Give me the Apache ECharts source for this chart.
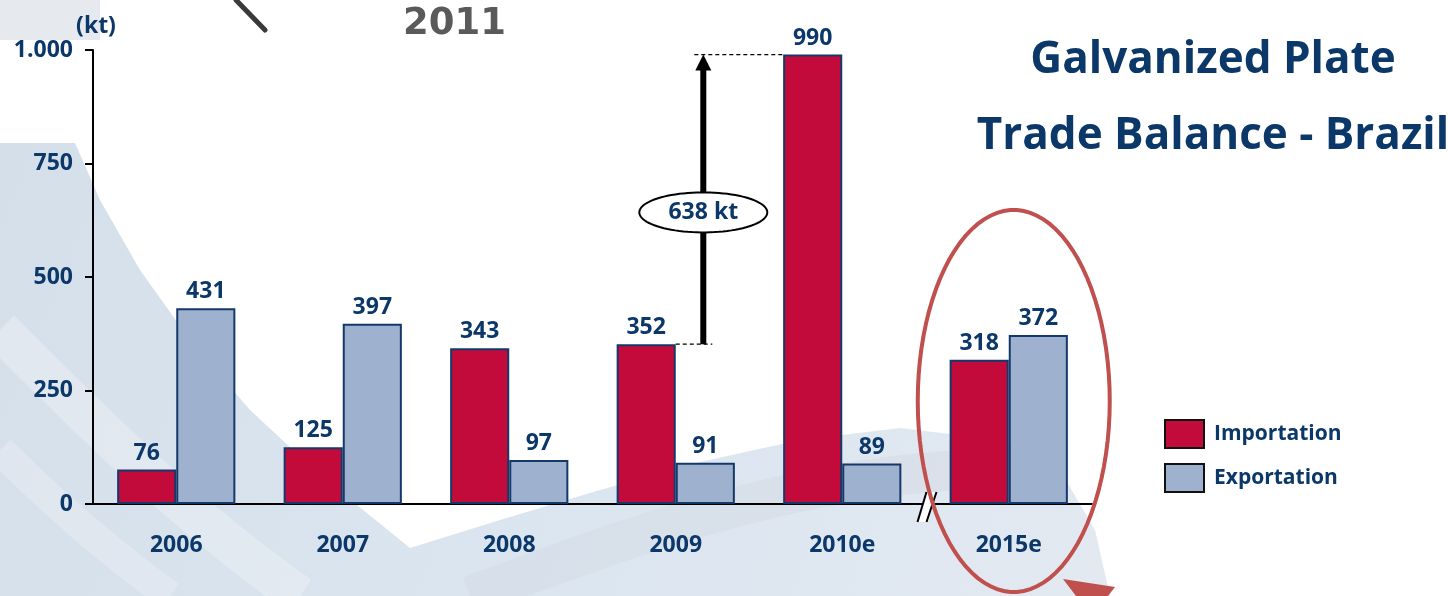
<!DOCTYPE html>
<html>
<head>
<meta charset="utf-8">
<title>Galvanized Plate Trade Balance - Brazil</title>
<script src="https://cdn.jsdelivr.net/npm/echarts@6/dist/echarts.min.js"></script>
<style>
  html, body { margin: 0; padding: 0; background: #fff; }
  #chart { width: 1448px; height: 596px; }
</style>
</head>
<body>
<div id="chart"></div>
<script>
const categories = ['2006', '2007', '2008', '2009', '2010e', '2015e']
const importation = [76, 125, 343, 352, 990, 318]
const exportation = [431, 397, 97, 91, 89, 372]
const yTicks = [0, 250, 500, 750, 1000]

const NAVY = '#0b3868'
const FONT = '"Open Sans", "Noto Sans", sans-serif'

// 1.000 style thousands separator
const fmt = v => String(v).replace(/\B(?=(\d{3})+(?!\d))/g, '.')

// outline of an ellipse as polygon points (decoration only)
const ellipsePts = (cx, cy, rx, ry) => {
  const pts = []
  for (let k = 0; k < 90; k++) {
    const a = k / 90 * Math.PI * 2
    pts.push([cx + rx * Math.cos(a), cy + ry * Math.sin(a)])
  }
  return pts
}

const chart = echarts.init(document.getElementById('chart'))

const labelStyle = {
  show: true,
  position: 'top',
  distance: 5,
  color: NAVY,
  fontFamily: FONT,
  fontWeight: 'bold',
  fontSize: 23
}

// background swooshes
const background = [
  { type: 'rect', z: -10, shape: { x: 0, y: 0, width: 100, height: 40 }, style: { fill: '#e6e9ee' } },
  {
    type: 'polygon', z: -10,
    shape: {
      points: [[0, 143], [75, 143], [100, 200], [140, 270], [190, 340], [250, 410], [320, 475], [410, 548],
        [500, 520], [600, 490], [700, 462], [800, 440], [900, 428], [1000, 440], [1060, 470], [1095, 530], [1110, 596], [0, 596]]
    },
    style: {
      fill: new echarts.graphic.LinearGradient(0, 0, 1, 1, [
        { offset: 0, color: '#d5dfea' },
        { offset: 0.5, color: '#dae5f0' },
        { offset: 1, color: '#e3e9f1' }
      ])
    }
  },
  {
    type: 'bezierCurve', z: -9,
    shape: { x1: 0, y1: 330, cpx1: 90, cpy1: 420, cpx2: 190, cpy2: 520, x2: 300, y2: 596 },
    style: { fill: 'none', stroke: 'rgba(240,241,244,0.45)', lineWidth: 40 }
  },
  {
    type: 'bezierCurve', z: -9,
    shape: { x1: 0, y1: 450, cpx1: 60, cpy1: 510, cpx2: 120, cpy2: 560, x2: 170, y2: 596 },
    style: { fill: 'none', stroke: 'rgba(240,241,244,0.4)', lineWidth: 30 }
  },
  {
    type: 'bezierCurve', z: -9,
    shape: { x1: 470, y1: 596, cpx1: 620, cpy1: 540, cpx2: 780, cpy2: 480, x2: 960, y2: 470 },
    style: { fill: 'none', stroke: 'rgba(210,216,226,0.4)', lineWidth: 40 }
  },
  { type: 'line', z: -8, shape: { x1: 236, y1: 0, x2: 265, y2: 30 }, style: { stroke: '#3a3a3a', lineWidth: 5, lineCap: 'round' } },
  {
    type: 'text', z: -8, x: 403, y: 6,
    style: { text: '2011', fontFamily: '"DejaVu Sans", sans-serif', fontWeight: 'bold', fontSize: 37, fill: '#5a5a5a' }
  }
]

const option = {
  backgroundColor: '#fff',
  animation: false,
  title: {
    text: 'Galvanized Plate\nTrade Balance - Brazil',
    left: 1208,
    top: 17,
    textAlign: 'center',
    textStyle: {
      color: NAVY,
      fontFamily: FONT,
      fontWeight: 'bold',
      fontSize: 44,
      lineHeight: 76
    }
  },
  legend: {
    orient: 'vertical',
    left: 1164,
    top: 419,
    padding: 0,
    itemWidth: 39,
    itemHeight: 28,
    itemGap: 14,
    icon: 'rect',
    itemStyle: { borderColor: '#111', borderWidth: 2 },
    textStyle: {
      color: NAVY,
      fontFamily: FONT,
      fontWeight: 'bold',
      fontSize: 21,
      padding: [0, 0, 0, 5]
    },
    data: ['Importation', 'Exportation']
  },
  grid: {
    left: 93,
    right: 356,
    top: 50,
    bottom: 92
  },
  xAxis: {
    type: 'category',
    data: categories,
    axisLine: { lineStyle: { color: '#000', width: 2 } },
    axisTick: { show: false },
    axisLabel: {
      color: NAVY,
      fontFamily: FONT,
      fontWeight: 'bold',
      fontSize: 23,
      margin: 30
    }
  },
  yAxis: {
    type: 'value',
    min: yTicks[0],
    max: yTicks[yTicks.length - 1],
    interval: yTicks[1] - yTicks[0],
    name: '(kt)',
    nameLocation: 'end',
    nameGap: 12,
    nameTextStyle: {
      color: NAVY,
      fontFamily: FONT,
      fontWeight: 'bold',
      fontSize: 23,
      align: 'center',
      padding: [0, 0, 0, 6]
    },
    axisLine: { show: true, lineStyle: { color: '#000', width: 2 } },
    axisTick: { show: true, length: 8, lineStyle: { color: '#000', width: 2 } },
    splitLine: { show: false },
    axisLabel: {
      color: NAVY,
      fontFamily: FONT,
      fontWeight: 'bold',
      fontSize: 23,
      margin: 20,
      formatter: fmt
    }
  },
  series: [
    {
      name: 'Importation',
      type: 'bar',
      data: importation,
      barGap: '0%',
      barCategoryGap: '29%',
      itemStyle: { color: '#c20b3b', borderColor: '#15386a', borderWidth: 2 },
      label: labelStyle
    },
    {
      name: 'Exportation',
      type: 'bar',
      data: exportation,
      itemStyle: { color: '#9eb1cf', borderColor: '#15386a', borderWidth: 2 },
      label: labelStyle
    }
  ],
  graphic: { elements: background }
}

chart.setOption(option)

// annotations placed from the axes
const px = (i, v) => chart.convertToPixel({ gridIndex: 0 }, [i, v])
const catW = px(1, 0)[0] - px(0, 0)[0]
const bw = catW * (1 - 0.29) / 2
const yZero = px(0, 0)[1]

const i09 = categories.indexOf('2009')
const i10 = categories.indexOf('2010e')
const i15 = categories.indexOf('2015e')
const low = importation[i09]
const high = importation[i10]
const diff = high - low

const arrowX = px(i09, 0)[0] + bw / 2 - 2
const yLow = px(i09, low)[1]
const yHigh = px(i10, high)[1]
const labelY = px(i09, low + diff * 0.455)[1]

const cx15 = px(i15, 0)[0] + 5
const bx = (px(i10, 0)[0] + px(i15, 0)[0]) / 2 + 1

const annotations = [
  { type: 'line', z: 100, shape: { x1: px(i09, 0)[0], y1: yLow, x2: arrowX + 9, y2: yLow }, style: { stroke: '#000', lineWidth: 1.2, lineDash: [4, 3] } },
  { type: 'line', z: 100, shape: { x1: arrowX - 9, y1: yHigh, x2: px(i10, 0)[0] - bw, y2: yHigh }, style: { stroke: '#000', lineWidth: 1.2, lineDash: [4, 3] } },
  { type: 'line', z: 100, shape: { x1: arrowX, y1: yLow, x2: arrowX, y2: yHigh + 14 }, style: { stroke: '#000', lineWidth: 6 } },
  { type: 'polygon', z: 100, shape: { points: [[arrowX, yHigh], [arrowX - 8, yHigh + 16], [arrowX + 8, yHigh + 16]] }, style: { fill: '#000' } },
  { type: 'polygon', z: 101, shape: { points: ellipsePts(arrowX, labelY, 64, 20) }, style: { fill: '#fff', stroke: '#000', lineWidth: 2 } },
  {
    type: 'text', z: 102, x: arrowX, y: labelY,
    style: { text: diff + ' kt', align: 'center', verticalAlign: 'middle', fill: NAVY, fontFamily: FONT, fontWeight: 'bold', fontSize: 23 }
  },
  // axis break
  { type: 'polygon', z: 100, shape: { points: [[bx - 9, yZero + 18], [bx, yZero - 12], [bx + 10, yZero - 12], [bx, yZero + 18]] }, style: { fill: '#fff' } },
  { type: 'line', z: 101, shape: { x1: bx - 9, y1: yZero + 18, x2: bx, y2: yZero - 12 }, style: { stroke: '#000', lineWidth: 2 } },
  { type: 'line', z: 101, shape: { x1: bx, y1: yZero + 18, x2: bx + 10, y2: yZero - 12 }, style: { stroke: '#000', lineWidth: 2 } },
  // highlight of the forecast
  { type: 'polygon', z: 103, shape: { points: ellipsePts(cx15, yZero - 103, 96, 191) }, style: { fill: 'none', stroke: '#c0504d', lineWidth: 4 } },
  { type: 'polygon', z: 103, shape: { points: [[1063, 579], [1115, 587], [1108, 596], [1076, 596]] }, style: { fill: '#c0504d' } }
]

chart.setOption({ graphic: { elements: background.concat(annotations) } })

window.addEventListener('resize', () => chart.resize())
</script>
</body>
</html>
